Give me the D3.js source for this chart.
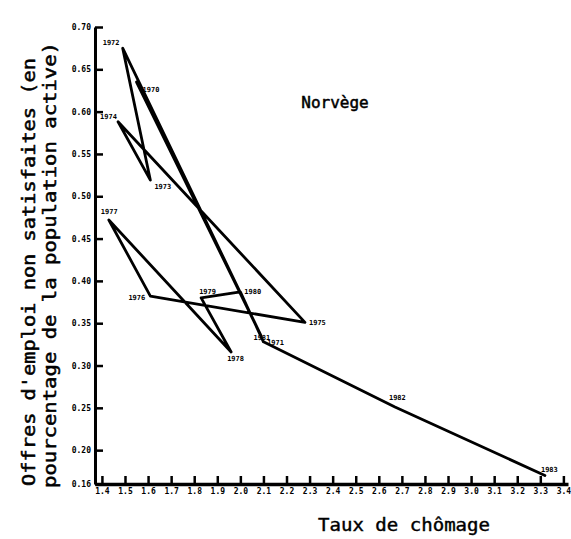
<!DOCTYPE html>
<html>
<head>
<meta charset="utf-8">
<script src="https://cdn.jsdelivr.net/npm/d3@7"></script>
<style>
  body { margin: 0; background: #fff; }
  text { font-family: "DejaVu Sans Mono", monospace; fill: #000; }
</style>
</head>
<body>
<div id="chart"></div>
<script>
// Norway: unemployment rate vs. unfilled vacancies, year by year
const years        = [1970, 1971, 1972, 1973, 1974, 1975, 1976, 1977, 1978, 1979, 1980, 1981, 1982, 1983];
const unemployment = [1.55, 2.09, 1.49, 1.61, 1.47, 2.28, 1.61, 1.43, 1.96, 1.83, 2.00, 2.10, 2.67, 3.32];
const vacancies    = [0.635, 0.335, 0.675, 0.519, 0.588, 0.351, 0.382, 0.472, 0.316, 0.380, 0.387, 0.328, 0.251, 0.170];

// axis ticks
const xTicks = d3.range(14, 35).map(d => d / 10);           // 1.4 ... 3.4
const yTicks = [0.16, 0.20, 0.25, 0.30, 0.35, 0.40, 0.45, 0.50, 0.55, 0.60, 0.65, 0.70];

const title = "Norvège";
const xTitle = "Taux de chômage";
const yTitle = ["Offres d'emploi non satisfaites (en", "pourcentage de la population active)"];

// small nudges for the year labels (pixels)
const labelNudge = {
    1970: [6, 10], 1971: [6, 9], 1972: [-20, -3], 1973: [4, 9], 1974: [-18, -3],
    1975: [4, 3], 1976: [-22, 4], 1977: [-8, -6], 1978: [-4, 9], 1979: [-2, -4],
    1980: [4, 2], 1981: [-10, -2], 1982: [-6, -7], 1983: [-4, -4]
};

const width = 571;
const height = 539;

const svg = d3.select("#chart").append("svg")
    .attr("width", width)
    .attr("height", height);

const x = d3.scaleLinear().domain([1.37, 3.42]).range([95, 568]);
const y = d3.scaleLinear().domain([0.16, 0.70]).range([484, 27]);

// y axis
const yAxis = svg.append("g")
    .attr("transform", `translate(${x(1.37)},0)`)
    .call(d3.axisLeft(y)
        .tickValues(yTicks)
        .tickSizeInner(-8)
        .tickSizeOuter(0)
        .tickPadding(4)
        .tickFormat(d3.format(".2f")));
yAxis.select(".domain").attr("stroke-width", 3);
yAxis.selectAll(".tick line").attr("stroke-width", 2.5);
yAxis.selectAll(".tick text")
    .style("font-size", "8px")
    .style("font-weight", "bold");

// x axis
const xAxis = svg.append("g")
    .attr("transform", `translate(0,${y(0.16)})`)
    .call(d3.axisBottom(x)
        .tickValues(xTicks)
        .tickSizeInner(-8)
        .tickSizeOuter(0)
        .tickPadding(4)
        .tickFormat(d3.format(".1f")));
xAxis.select(".domain").attr("stroke-width", 3.5);
xAxis.selectAll(".tick line").attr("stroke-width", 2.5);
xAxis.selectAll(".tick text")
    .style("font-size", "8px")
    .style("font-weight", "bold");

// the year-to-year path
const points = years.map((yr, i) => ({ year: yr, u: unemployment[i], v: vacancies[i] }));

const line = d3.line()
    .x(d => x(d.u))
    .y(d => y(d.v));

svg.append("path")
    .datum(points)
    .attr("d", line)
    .attr("fill", "none")
    .attr("stroke", "#000")
    .attr("stroke-width", 2.8)
    .attr("stroke-linejoin", "round")
    .attr("stroke-linecap", "round");

svg.append("g")
    .selectAll("text")
    .data(points)
    .join("text")
    .attr("x", d => x(d.u) + labelNudge[d.year][0])
    .attr("y", d => y(d.v) + labelNudge[d.year][1])
    .text(d => d.year)
    .style("font-size", "7px")
    .style("font-weight", "bold");

// titles
svg.append("text")
    .attr("x", 335)
    .attr("y", 108)
    .attr("text-anchor", "middle")
    .attr("stroke", "#000")
    .attr("stroke-width", 0.5)
    .style("font-size", "16px")
    .text(title);

svg.append("text")
    .attr("x", 404)
    .attr("y", 531)
    .attr("text-anchor", "middle")
    .attr("textLength", 172)
    .attr("lengthAdjust", "spacingAndGlyphs")
    .attr("stroke", "#000")
    .attr("stroke-width", 0.4)
    .style("font-size", "17px")
    .text(xTitle);

svg.selectAll("text.ytitle")
    .data(yTitle)
    .join("text")
    .attr("class", "ytitle")
    .attr("transform", (d, i) => `translate(${35 + i * 21},${i == 0 ? 272 : 265}) rotate(-90)`)
    .attr("text-anchor", "middle")
    .attr("textLength", (d, i) => i == 0 ? 428 : 446)
    .attr("lengthAdjust", "spacingAndGlyphs")
    .attr("stroke", "#000")
    .attr("stroke-width", 0.5)
    .style("font-size", "17px")
    .text(d => d);
</script>
</body>
</html>
